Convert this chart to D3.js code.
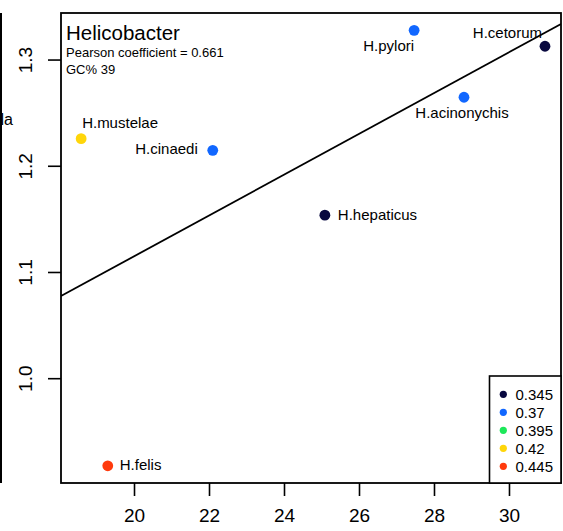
<!DOCTYPE html>
<html><head><meta charset="utf-8">
<script src="https://cdn.jsdelivr.net/npm/d3@7"></script>
<style>body{margin:0;background:#fff}svg{display:block;font-family:"Liberation Sans",Arial,sans-serif}</style>
</head><body>
<script>
const species = ["H.pylori","H.cetorum","H.acinonychis","H.mustelae","H.cinaedi","H.hepaticus","H.felis"];
const xValues = [27.47, 30.96, 28.80, 18.59, 22.10, 25.09, 19.30];
const yValues = [1.328, 1.313, 1.265, 1.226, 1.215, 1.154, 0.918];
const groupValues = [0.37, 0.345, 0.37, 0.42, 0.37, 0.345, 0.445];
const legendValues = [0.345, 0.37, 0.395, 0.42, 0.445];
const legendColors = ["#08083f", "#1167ff", "#1de85a", "#ffd60a", "#ff3a0d"];
const xTicks = [20, 22, 24, 26, 28, 30];
const yTicks = [1.0, 1.1, 1.2, 1.3];
const fitLine = {intercept: 0.7310, slope: 0.01921};
const titleText = "Helicobacter";
const pearsonText = "Pearson coefficient = 0.661";
const gcText = "GC% 39";
// label placement (style): anchor, dx, dy
const labelPlace = [["end",0,21],["end",-3,-8],["middle",-2,21],["start",1,-11],["end",-15,4],["start",13,5],["start",12,4]];

const W = 563, H = 531;
const L = 61, T = 13, R = 561, B = 483;
const svg = d3.select("body").append("svg").attr("width", W).attr("height", H);

const x = d3.scaleLinear().domain([18.053, 31.387]).range([L, R]);
const y = d3.scaleLinear().domain([0.9018, 1.3443]).range([B, T]);
const color = d3.scaleOrdinal().domain(legendValues).range(legendColors);

// neighbour panel remnants
svg.append("line").attr("x1",1).attr("x2",1).attr("y1",T).attr("y2",B).attr("stroke","#000").attr("stroke-width",2);
svg.append("text").attr("x",13).attr("y",125).attr("text-anchor","end").attr("font-size",16).text("la");

// clip for the regression line
svg.append("clipPath").attr("id","plotclip").append("rect").attr("x",L).attr("y",T).attr("width",R-L).attr("height",B-T);

// axes
const xAxis = d3.axisBottom(x).tickValues(xTicks).tickSize(13).tickPadding(13).tickFormat(d3.format("d"));
const gx = svg.append("g").attr("transform",`translate(0,${B})`).call(xAxis);
gx.select(".domain").remove();
gx.selectAll("line").attr("stroke","#000").attr("stroke-width",1.6);
gx.selectAll("text").attr("font-size",19).attr("fill","#000").attr("font-family","Liberation Sans, Arial, sans-serif").attr("dy","0.71em");

const yAxis = d3.axisLeft(y).tickValues(yTicks).tickSize(13).tickFormat(d3.format(".1f"));
const gy = svg.append("g").attr("transform",`translate(${L},0)`).call(yAxis);
gy.select(".domain").remove();
gy.selectAll("line").attr("stroke","#000").attr("stroke-width",1.6);
gy.selectAll("text").attr("font-size",19).attr("fill","#000").attr("font-family","Liberation Sans, Arial, sans-serif")
  .attr("text-anchor","middle").attr("x",null).attr("dy",null)
  .attr("transform", d => `translate(${25 - L + 7},${y(d)}) rotate(-90)`).attr("y",0);
gy.selectAll(".tick").attr("transform","translate(0,0)");
gy.selectAll(".tick line").attr("transform", d => `translate(0,${y(d)})`);

// regression line
const xd = x.domain();
svg.append("line").attr("clip-path","url(#plotclip)")
  .attr("x1", x(xd[0])).attr("y1", y(fitLine.intercept + fitLine.slope*xd[0]))
  .attr("x2", x(xd[1])).attr("y2", y(fitLine.intercept + fitLine.slope*xd[1]))
  .attr("stroke","#000").attr("stroke-width",1.8);

// box
svg.append("rect").attr("x",L).attr("y",T).attr("width",R-L).attr("height",B-T)
  .attr("fill","none").attr("stroke","#000").attr("stroke-width",1.8);

// points
const data = species.map((s,i)=>({s, x:xValues[i], y:yValues[i], g:groupValues[i], p:labelPlace[i]}));
svg.append("g").selectAll("circle").data(data).join("circle")
  .attr("cx", d=>x(d.x)).attr("cy", d=>y(d.y)).attr("r",5.4).attr("fill", d=>color(d.g));
svg.append("g").selectAll("text").data(data).join("text")
  .attr("x", d=>x(d.x)+d.p[1]).attr("y", d=>y(d.y)+d.p[2]).attr("text-anchor", d=>d.p[0])
  .attr("font-size",15).attr("fill","#000").text(d=>d.s);

// title block
svg.append("text").attr("x",66).attr("y",40).attr("font-size",20.5).text(titleText);
svg.append("text").attr("x",66).attr("y",57).attr("font-size",13).text(pearsonText);
svg.append("text").attr("x",66).attr("y",74).attr("font-size",13).text(gcText);

// legend
const lg = svg.append("g");
lg.append("rect").attr("x",489.5).attr("y",376).attr("width",R-489.5).attr("height",B-376)
  .attr("fill","#fff").attr("stroke","#000").attr("stroke-width",1.6);
const li = lg.selectAll("g").data(legendValues).join("g")
  .attr("transform",(d,i)=>`translate(0,${394.3 + i*18})`);
li.append("circle").attr("cx",503.3).attr("cy",0).attr("r",3.6).attr("fill",d=>color(d));
li.append("text").attr("x",515.5).attr("y",0).attr("dy","0.36em").attr("font-size",15).text(d=>String(d));
</script>
</body></html>
